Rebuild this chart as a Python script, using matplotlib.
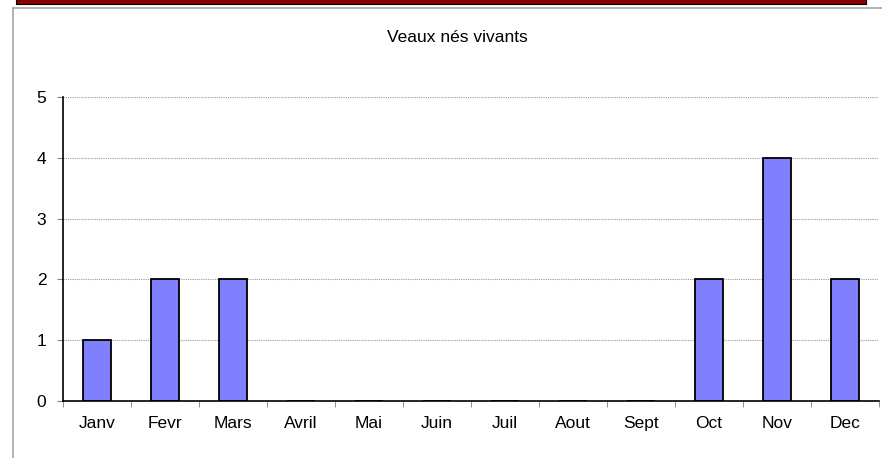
import numpy as np
import matplotlib.pyplot as plt
from matplotlib.patches import Rectangle
from matplotlib.lines import Line2D

plt.rcParams['font.family'] = ['Liberation Sans', 'DejaVu Sans']

mois = ['Janv', 'Fevr', 'Mars', 'Avril', 'Mai', 'Juin', 'Juil', 'Aout', 'Sept', 'Oct', 'Nov', 'Dec']
veaux = [1, 2, 2, 0, 0, 0, 0, 0, 0, 2, 4, 2]

W, H = 882, 458
fig = plt.figure(figsize=(W / 100, H / 100), dpi=100)

# bandeau rouge en haut + cadre gris
fig.add_artist(Rectangle((16 / W, 1 - 3.5 / H), 850 / W, 4 / H, transform=fig.transFigure,
                         facecolor='#8b0000', edgecolor='black', linewidth=0.8))
fig.add_artist(Line2D([13 / W, 13 / W], [0, 1 - 8 / H], transform=fig.transFigure, color='#a6a6a6', linewidth=1.2))
fig.add_artist(Line2D([13 / W, 1], [1 - 8 / H, 1 - 8 / H], transform=fig.transFigure, color='#a6a6a6', linewidth=1.2))

ax = fig.add_axes([63 / W, 1 - 401 / H, 816 / W, 304 / H])
x = np.arange(len(mois))
ax.bar(x, veaux, width=0.41, color='#8080ff', edgecolor='black', linewidth=1.3, zorder=1)

ax.set_xlim(-0.5, len(mois) - 0.5)
ax.set_ylim(0, 5)
ax.set_yticks(range(6))
ax.set_xticks(x)
ax.set_xticklabels(mois)
ax.set_xticks(np.arange(-0.5, len(mois)), minor=True)
ax.tick_params(axis='x', which='major', length=0, pad=11, labelsize=12.5)
ax.tick_params(axis='x', which='minor', length=4, color='#808080', direction='out')
ax.tick_params(axis='y', length=4, color='#808080', pad=8, labelsize=12.5)

ax.grid(axis='y', color='#9a9a9a', linestyle=(0, (1, 1)), linewidth=0.8, zorder=0)
ax.set_axisbelow(True)
for s in ['top', 'right']:
    ax.spines[s].set_visible(False)
ax.spines['left'].set_linewidth(1.2)
ax.spines['bottom'].set_linewidth(1.2)
ax.spines['bottom'].set_zorder(4)

fig.text(457 / W, 1 - 38 / H, 'Veaux nés vivants', ha='center', va='center', fontsize=12.5)

fig.savefig('out.png', dpi=100)
